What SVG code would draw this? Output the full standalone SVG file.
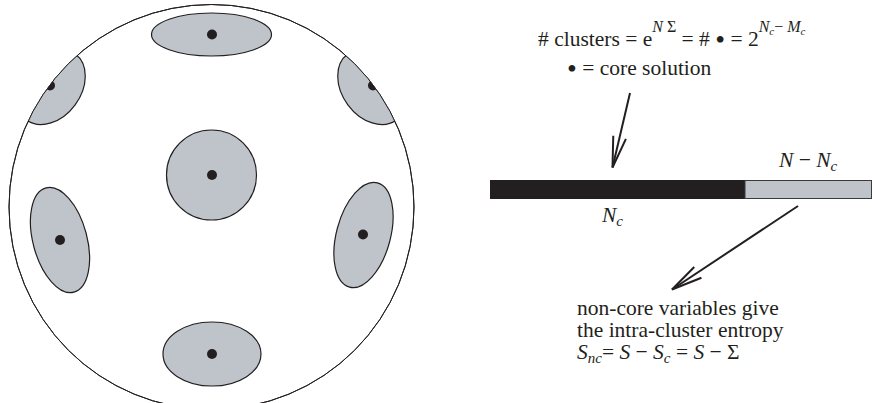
<svg xmlns="http://www.w3.org/2000/svg" width="873" height="403" viewBox="0 0 873 403">
<style>
.cl{fill:#bfc4ca;stroke:#231f20;stroke-width:1.2}
.dot{fill:#231f20}
text{font-family:'Liberation Serif','Times New Roman','DejaVu Serif',serif;font-size:21.5px;fill:#231f20}
.i{font-style:italic}
.b{font-size:28px}
.arr{fill:none;stroke:#231f20;stroke-width:2}
</style>
<defs>
<clipPath id="disk"><circle cx="211.5" cy="207" r="202.5"/></clipPath>
<marker id="ah" markerUnits="userSpaceOnUse" orient="auto" refX="0" refY="0" markerWidth="40" markerHeight="20" viewBox="-35 -10 40 20" overflow="visible">
<path d="M-31,-6.5 L0,0 L-31,6.5" fill="none" stroke="#231f20" stroke-width="2"/>
</marker>
</defs>
<rect width="873" height="403" fill="#fff"/>
<g id="space">
<circle cx="211.5" cy="207" r="202.5" fill="#fff" stroke="#231f20" stroke-width="1"/>
</g>
<g clip-path="url(#disk)">
<g id="cluster-top"><ellipse class="cl" cx="211.5" cy="34.5" rx="60" ry="21.5"/><circle class="dot" cx="212" cy="34.5" r="5"/></g>
<g id="cluster-center"><circle class="cl" cx="211.5" cy="175" r="45"/><circle class="dot" cx="212" cy="175" r="5"/></g>
<g id="cluster-left"><ellipse class="cl" cx="60" cy="240" rx="27" ry="54" transform="rotate(-15 60 240)"/><circle class="dot" cx="60" cy="240" r="5"/></g>
<g id="cluster-right"><ellipse class="cl" cx="363.5" cy="235" rx="27" ry="54" transform="rotate(15 363.5 235)"/><circle class="dot" cx="363" cy="234.5" r="5"/></g>
<g id="cluster-bottom"><ellipse class="cl" cx="212" cy="354" rx="49" ry="32"/><circle class="dot" cx="212" cy="354" r="5"/></g>
<g id="cluster-topleft"><ellipse class="cl" cx="51" cy="87" rx="41" ry="30" transform="rotate(-53.6 51 87)"/><circle class="dot" cx="50" cy="85.5" r="5"/></g>
<g id="cluster-topright"><ellipse class="cl" cx="372" cy="87" rx="41" ry="30" transform="rotate(53.6 372 87)"/><circle class="dot" cx="373" cy="85.5" r="5"/></g>
</g>
<circle cx="211.5" cy="207" r="202.5" fill="none" stroke="#231f20" stroke-width="1"/>
<g id="bar">
<rect x="490" y="180" width="255" height="19" fill="#231f20"/>
<rect x="745" y="180.5" width="126.5" height="18" fill="#bfc4ca" stroke="#3a3a3a" stroke-width="1"/>
</g>
<g id="labels">
<text x="538" y="46"># clusters = e<tspan class="i" font-size="16" dy="-14">N</tspan><tspan font-size="16"> Σ</tspan><tspan dy="14"> = # <tspan class="b" dy="3">•</tspan><tspan dy="-3"> = 2</tspan></tspan><tspan class="i" font-size="16" dy="-14">N</tspan><tspan class="i" font-size="11" dy="3">c</tspan><tspan font-size="16" dy="-3">− </tspan><tspan class="i" font-size="16">M</tspan><tspan class="i" font-size="11" dy="3">c</tspan></text>
<text x="567" y="75"><tspan class="b" dy="3">•</tspan><tspan dy="-3"> = core solution</tspan></text>
<text x="779" y="167"><tspan class="i">N</tspan> − <tspan class="i">N</tspan><tspan class="i" font-size="15" dy="4">c</tspan></text>
<text x="602" y="222"><tspan class="i">N</tspan><tspan class="i" font-size="15" dy="4">c</tspan></text>
<text x="577" y="315">non-core variables give</text>
<text x="577" y="337">the intra-cluster entropy</text>
<text x="577" y="359"><tspan class="i">S</tspan><tspan class="i" font-size="15" dy="4">nc</tspan><tspan dy="-4">= </tspan><tspan class="i">S</tspan> − <tspan class="i">S</tspan><tspan class="i" font-size="15" dy="4">c</tspan><tspan dy="-4"> = </tspan><tspan class="i">S</tspan> −  Σ</text>
</g>
<g id="connectors">
<line class="arr" x1="630" y1="93" x2="612.5" y2="167.5" marker-end="url(#ah)"/>
<line class="arr" x1="798" y1="206" x2="672" y2="289.5" marker-end="url(#ah)"/>
</g>
</svg>
